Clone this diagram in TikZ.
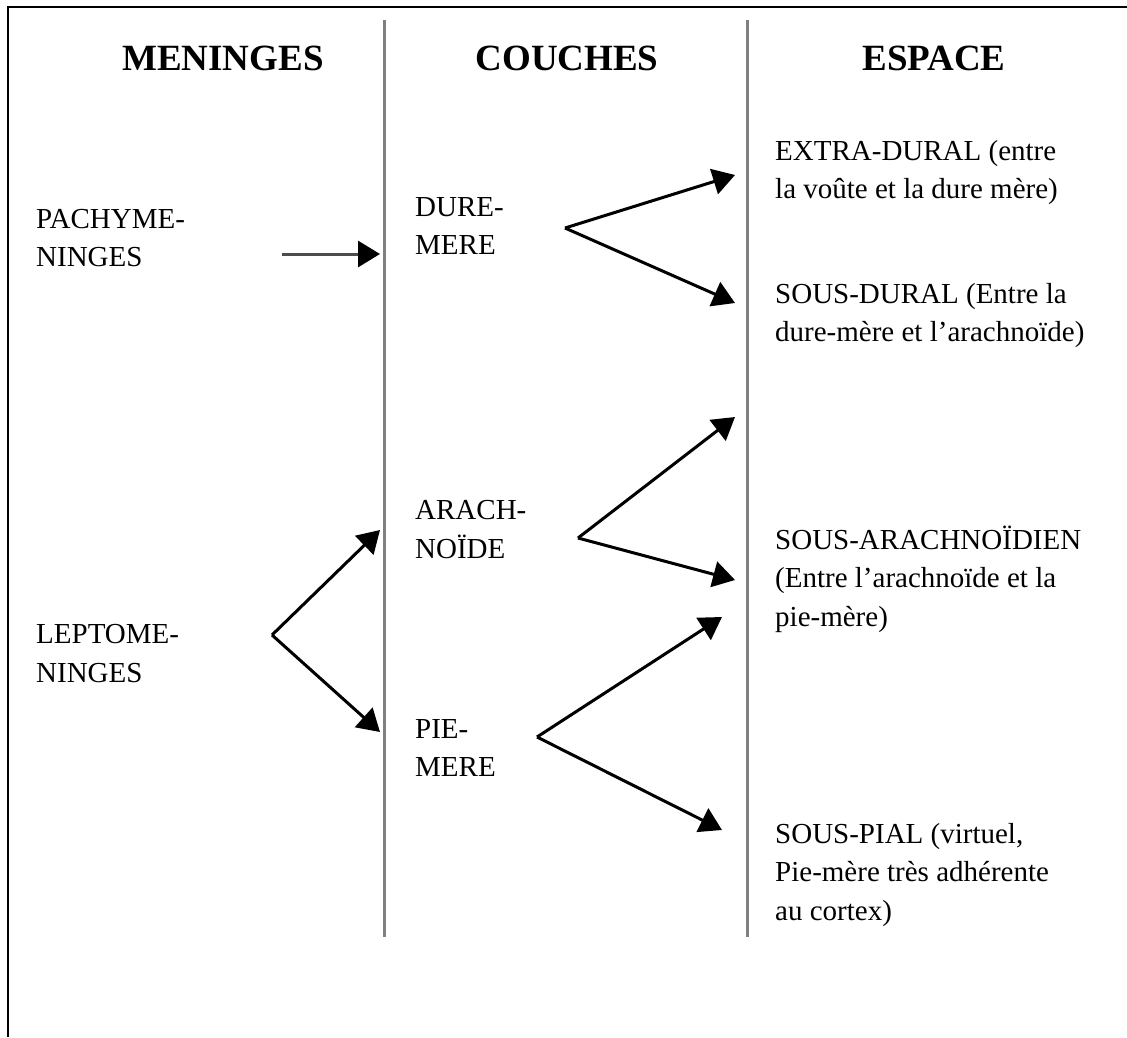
\documentclass[tikz,border=0pt]{standalone}
\usepackage{fontspec}
\setmainfont{Liberation Serif}
\usetikzlibrary{arrows.meta}
\tikzset{
  titre/.style={font=\fontsize{37}{44}\selectfont\bfseries, anchor=base, inner sep=0pt},
  texte/.style={font=\fontsize{29}{38.5}\selectfont, align=left, anchor=base west, inner sep=0pt},
  fleche/.style={line width=3pt, -{Triangle[length=22pt,width=26pt,color=black]}},
  separ/.style={line width=3pt, black!50}
}
\begin{document}
\begin{tikzpicture}[x=1pt,y=-1pt]
    \useasboundingbox (0,0) rectangle (1127,1037);
    \draw[line width=2pt] (1127,7) -- (8,7) -- (8,1037);
    \draw[separ] (384,20) -- (384,937);
    \draw[separ] (747,20) -- (747,937);
    % titres
    \node[titre] (meninges) at (223,70) {MENINGES};
    \node[titre] (couches) at (567,70) {COUCHES};
    \node[titre] (espace) at (934,70) {ESPACE};
    % meninges (base = derniere ligne)
    \node[texte] (pachy) at (36,266.5) {PACHYME-\\NINGES};
    \node[texte] (lepto) at (36,682) {LEPTOME-\\NINGES};
    % couches
    \node[texte] (dure) at (415,254.5) {DURE-\\MERE};
    \node[texte] (arach) at (415,558) {ARACH-\\NOÏDE};
    \node[texte] (pie) at (415,776.5) {PIE-\\MERE};
    % espaces
    \node[texte] (extra) at (775,198.5) {EXTRA-DURAL (entre\\la voûte et la dure mère)};
    \node[texte] (sousdural) at (775,341.5) {SOUS-DURAL (Entre la\\dure-mère et l’arachnoïde)};
    \node[texte] (sousarach) at (775,626) {SOUS-ARACHNOÏDIEN\\(Entre l’arachnoïde et la\\pie-mère)};
    \node[texte] (souspial) at (775,920) {SOUS-PIAL (virtuel,\\Pie-mère très adhérente\\au cortex)};
    % fleches
    \coordinate (p0) at (282,254);
    \coordinate (p1) at (380,254);
    \coordinate (l0) at (272,635);
    \coordinate (l1) at (380,530);
    \coordinate (l2) at (380,732);
    \coordinate (d0) at (565,228);
    \coordinate (d1) at (735,175);
    \coordinate (d2) at (735,303);
    \coordinate (a0) at (578,538);
    \coordinate (a1) at (735,417);
    \coordinate (a2) at (735,580);
    \coordinate (m0) at (537,737);
    \coordinate (m1) at (722,617);
    \coordinate (m2) at (722,830);
    \draw[fleche, black!70] (p0) -- (p1);
    \draw[fleche] (l0) -- (l1);
    \draw[fleche] (l0) -- (l2);
    \draw[fleche] (d0) -- (d1);
    \draw[fleche] (d0) -- (d2);
    \draw[fleche] (a0) -- (a1);
    \draw[fleche] (a0) -- (a2);
    \draw[fleche] (m0) -- (m1);
    \draw[fleche] (m0) -- (m2);
\end{tikzpicture}
\end{document}
